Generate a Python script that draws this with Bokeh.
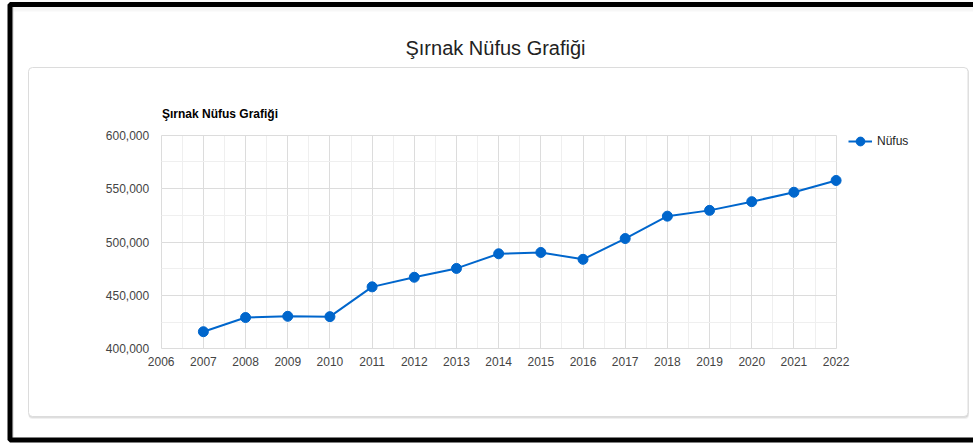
from bokeh.plotting import figure
from bokeh.models import (BoxAnnotation, Label, Legend, LegendItem, SingleIntervalTicker,
                          NumeralTickFormatter, Range1d, ColumnDataSource)
from bokeh.embed import file_html
from bokeh.resources import INLINE

# ---- data ----
years = [2007, 2008, 2009, 2010, 2011, 2012, 2013, 2014, 2015,
         2016, 2017, 2018, 2019, 2020, 2021, 2022]
nufus = [416001, 429287, 430424, 430109, 457997, 466982, 475255, 488966, 490184,
         483788, 503236, 524190, 529615, 537762, 546589, 557605]
page_title = "Şırnak Nüfus Grafiği"
chart_title = "Şırnak Nüfus Grafiği"
series_name = "Nüfus"
x_min, x_max = 2006, 2022
y_min, y_max = 400000, 600000

FONT = "Liberation Sans"
BLUE = "#0066cc"
W, H = 973, 443

# plot-area placement on the canvas (pixels)
PX_L, PX_R = 160.7, 835.6
PY_T, PY_B = 134.7, 348.3
sx = (x_max - x_min) / (PX_R - PX_L)
sy = (y_max - y_min) / (PY_B - PY_T)

src = ColumnDataSource(dict(year=years, nufus=nufus))

p = figure(width=W, height=H, output_backend="svg", toolbar_location=None,
           x_range=Range1d(x_min - PX_L * sx, x_max + (W - PX_R) * sx),
           y_range=Range1d(y_min - (H - PY_B) * sy, y_max + PY_T * sy),
           min_border=0)
p.outline_line_color = None
p.background_fill_color = "white"
p.border_fill_color = "white"

# ---- page decoration (canvas units, y from top) ----
def cbox(left, right, top, bottom, **kw):
    b = BoxAnnotation(left=left, right=right, top=top, bottom=bottom,
                      left_units="canvas", right_units="canvas",
                      top_units="canvas", bottom_units="canvas", level="image", **kw)
    p.add_layout(b)
    return b

# faint inner shadow of the page frame
cbox(12, 1000, 6, 11, fill_color="black", fill_alpha=0.03, line_color=None)
cbox(12, 13, 6, 437, fill_color="#cfcfcf", fill_alpha=1, line_color=None)
# card with shadow
cbox(28, 968.5, 68, 418.5, fill_color="black", fill_alpha=0.06, line_color=None, border_radius=4)
cbox(28, 968, 67.5, 417.2, fill_color="black", fill_alpha=0.10, line_color=None, border_radius=4)
cbox(28, 967.5, 67, 416, fill_color="white", fill_alpha=1, line_color="#dcdcdc",
     line_alpha=1, line_width=1, border_radius=4)
# black page border
cbox(9.5, 1000, 4, 439.5, fill_color=None, fill_alpha=0, line_color="black",
     line_alpha=1, line_width=5)

p.add_layout(Label(x=495, y=47, x_units="canvas", y_units="canvas", text=page_title,
                   text_font=FONT, text_font_size="20px", text_color="#222222",
                   text_align="center", text_baseline="alphabetic"))
p.add_layout(Label(x=161.5, y=113, x_units="canvas", y_units="canvas", text=chart_title,
                   text_font=FONT, text_font_size="12px", text_font_style="bold",
                   text_color="#000000", text_align="left", text_baseline="alphabetic"))

# ---- axes & grids ----
xt = SingleIntervalTicker(interval=1, num_minor_ticks=2)
yt = SingleIntervalTicker(interval=50000, num_minor_ticks=2)
p.xaxis.ticker = xt
p.yaxis.ticker = yt
p.xgrid.ticker = xt
p.ygrid.ticker = yt
p.xaxis.fixed_location = y_min
p.yaxis.fixed_location = x_min
p.xaxis.bounds = (x_min, x_max)
p.yaxis.bounds = (y_min, y_max)
p.yaxis.formatter = NumeralTickFormatter(format="0,0")
for ax in (p.xaxis, p.yaxis):
    ax.axis_line_color = None
    ax.major_tick_line_color = None
    ax.minor_tick_line_color = None
    ax.major_tick_out = 0
    ax.major_tick_in = 0
    ax.minor_tick_out = 0
    ax.minor_tick_in = 0
    ax.major_label_text_font = FONT
    ax.major_label_text_font_size = "12px"
    ax.major_label_text_color = "#444444"
p.yaxis.major_label_standoff = 12
p.xaxis.major_label_standoff = 8

for g in (p.xgrid, p.ygrid):
    g.grid_line_color = "#dcdcdc"
    g.grid_line_width = 1
    g.minor_grid_line_color = "#efefef"
    g.minor_grid_line_width = 1
p.xgrid.bounds = (x_min, x_max)
p.xgrid.cross_bounds = (y_min, y_max)
p.ygrid.bounds = (y_min, y_max)
p.ygrid.cross_bounds = (x_min, x_max)

# ---- series ----
lr = p.line("year", "nufus", source=src, line_color=BLUE, line_width=2)
sr = p.scatter("year", "nufus", source=src, size=10, fill_color=BLUE, line_color=BLUE)

legend = Legend(items=[LegendItem(label=series_name, renderers=[lr, sr])],
                location=(848, 291.5), padding=0, margin=0, spacing=0,
                glyph_width=24, glyph_height=22, label_height=22, label_standoff=5,
                label_text_font=FONT, label_text_font_size="12px", label_text_color="#222222",
                border_line_color=None, background_fill_alpha=0)
p.add_layout(legend)

open("out.html", "w").write(file_html(p, INLINE))
